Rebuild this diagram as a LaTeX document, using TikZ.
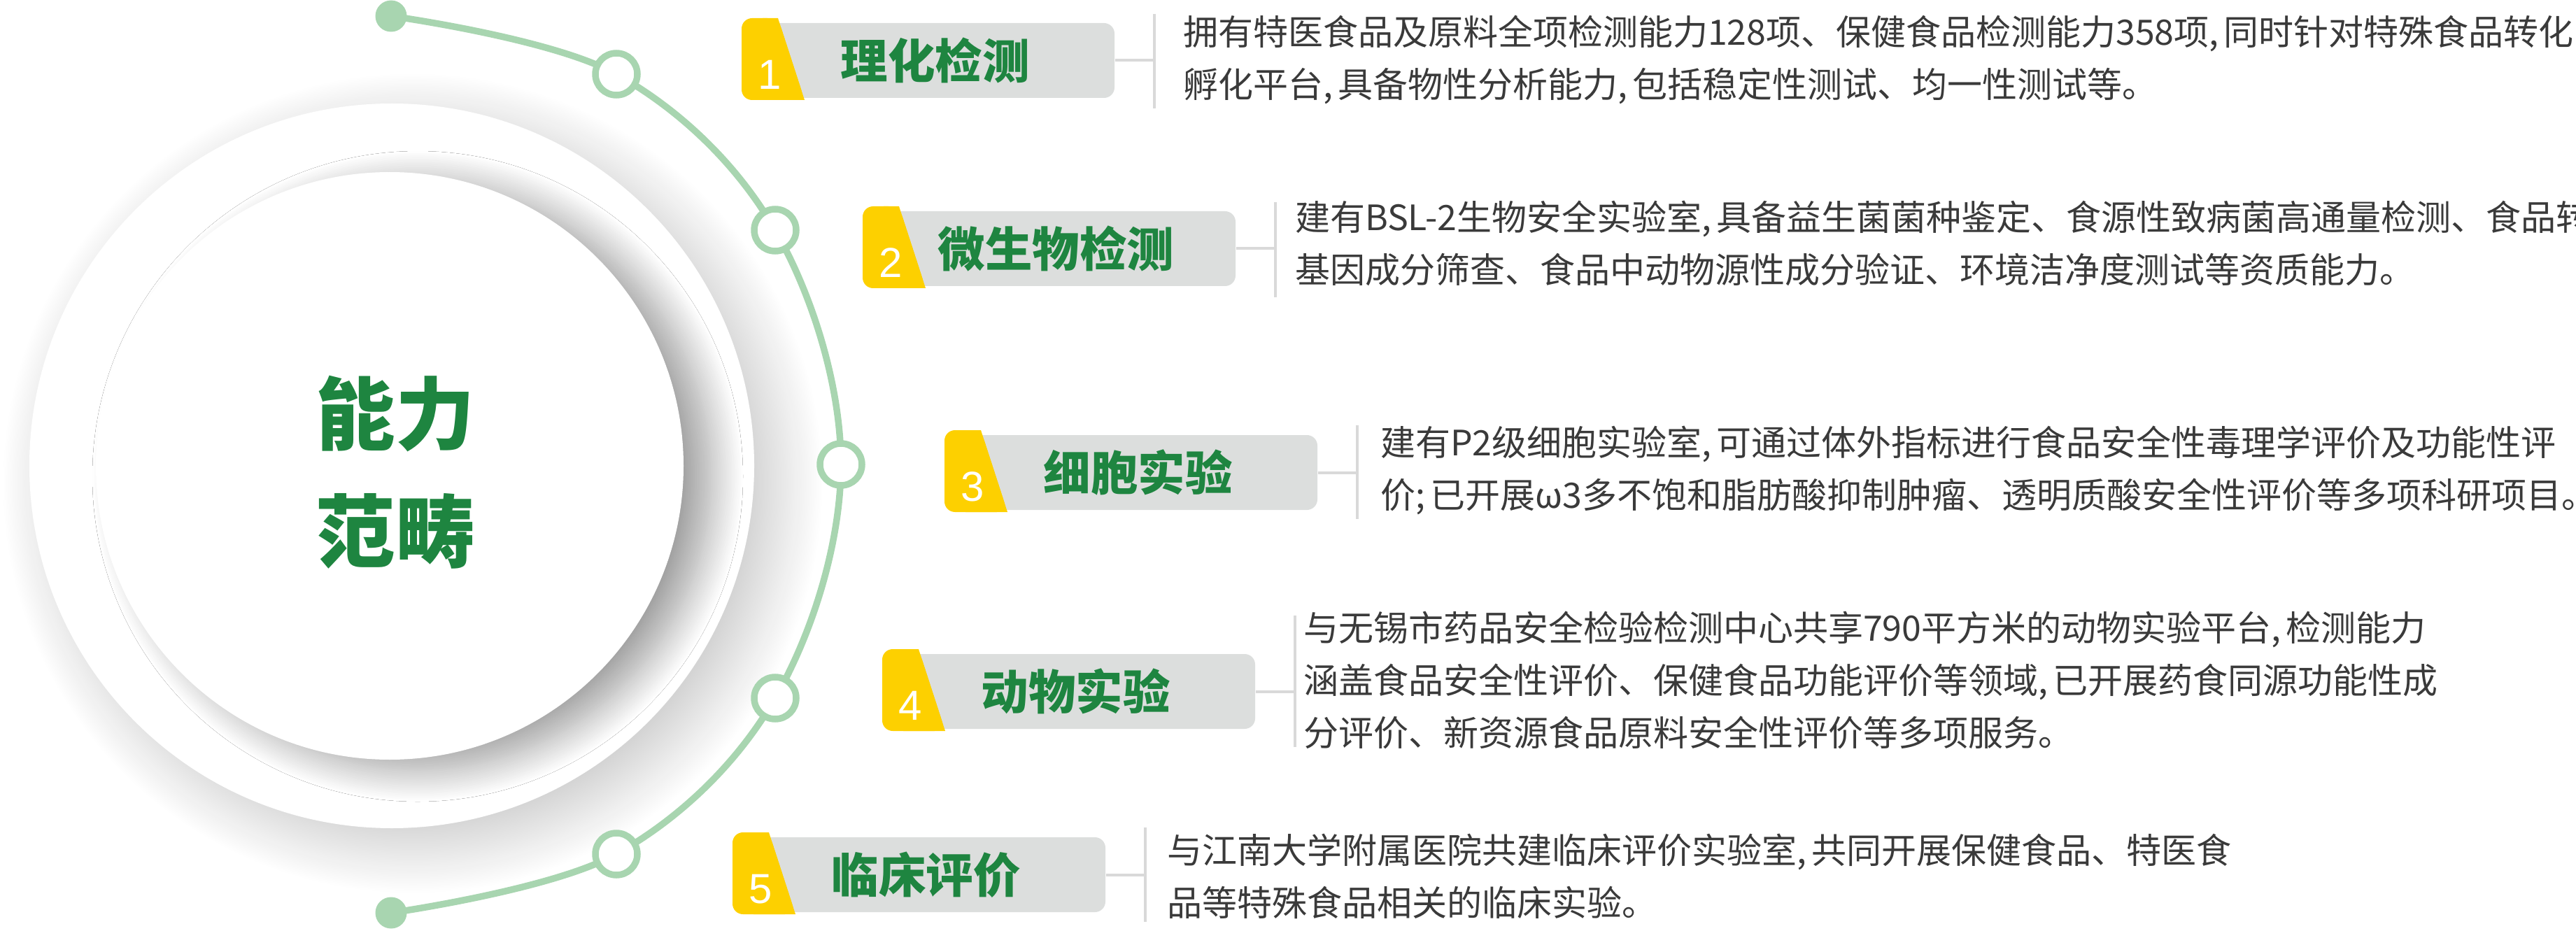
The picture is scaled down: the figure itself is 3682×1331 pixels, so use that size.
\documentclass[tikz,border=0pt]{standalone}
\usepackage{fontspec}
\setmainfont{Noto Sans CJK SC}
\newfontfamily\numfont{Liberation Sans}
\usetikzlibrary{shadows,shadows.blur}
\definecolor{tg}{HTML}{1E8540}
\definecolor{ty}{HTML}{FDD000}
\definecolor{tgray}{HTML}{DCDEDD}
\definecolor{arcg}{HTML}{A8D5B0}
\definecolor{txt}{HTML}{3A3A3A}
\definecolor{ln}{HTML}{D9D9D9}
\newcommand\cm{,\hspace{1.5pt}}
\tikzset{
  graybox/.style={fill=tgray, rounded corners=3pt, minimum width=98.6pt, minimum height=21.4pt, inner sep=0pt, text=tg, font=\fontsize{13.5pt}{14pt}\selectfont\bfseries},
  numtxt/.style={text=white, font=\numfont\fontsize{12pt}{12pt}\selectfont, inner sep=0pt},
  desc/.style={anchor=west, align=left, text=txt, inner sep=0pt, font=\fontsize{10pt}{15pt}\selectfont},
  vl/.style={draw=ln, line width=0.8pt},
  ring/.style={circle, draw=arcg, line width=1.9pt, fill=white, minimum size=12pt, inner sep=0pt},
  dot/.style={circle, fill=arcg, minimum size=9pt, inner sep=0pt},
}
\newcommand\mktag[7]{%
  \node[graybox] (#1g) at ({#2+286.5},{#3+1.5}) {\hspace*{-4pt}#4};
  \fill[ty, rounded corners=3pt] ({#2+52},{#3-59}) -- ({#2+90},{#3+58}) -- (#2,{#3+58}) -- (#2,{#3-59}) -- cycle;
  \fill[ty] ({#2+52},{#3-59}) -- ({#2+90},{#3+58}) -- ({#2+30},{#3+58}) -- ({#2+30},{#3-59}) -- cycle;
  \node[numtxt] (#1n) at ({#2+40},{#3+22}) {#5};
  \coordinate (#1t) at ({#2+590},{#6});
  \coordinate (#1b) at ({#2+590},{#7});
  \coordinate (#1c) at ({#2+590},{#3+1.5});
  \draw[vl] (#1t) -- (#1b);
  \draw[vl] (#1g.east) -- (#1c);
}
\begin{document}
\begin{tikzpicture}[x=0.2pt,y=-0.2pt]
\useasboundingbox (0,0) rectangle (3682,1331);
\clip (0,0) rectangle (3682,1331);
\fill[white, blur shadow={shadow xshift=6pt, shadow yshift=-5pt, shadow blur radius=14pt, shadow blur steps=30, shadow opacity=22}] (560,666) circle (518);
\fill[white, blur shadow={shadow xshift=8pt, shadow yshift=-3pt, shadow blur radius=9pt, shadow blur steps=30, shadow opacity=38}] (557,666) circle (420);
\node[text=tg, align=center, font=\fontsize{22.7pt}{33.6pt}\selectfont\bfseries] (core) at (565,675) {能力\\范畴};
\draw[arcg, line width=1.9pt] plot[smooth, tension=0.6] coordinates {(559,23) (881,106) (1108,329) (1202,664) (1108,998) (881,1221) (559,1305)};
\node[dot] (d0) at (559,23) {};
\node[dot] (d6) at (559,1305) {};
\node[ring] (r1) at (881,106) {};
\node[ring] (r2) at (1108,329) {};
\node[ring] (r3) at (1202,664) {};
\node[ring] (r4) at (1108,998) {};
\node[ring] (r5) at (881,1221) {};
\mktag{a}{1060}{85}{理化检测}{1}{20}{155}
\mktag{b}{1233}{354}{微生物检测}{2}{289}{425}
\mktag{c}{1350}{674}{细胞实验}{3}{608}{742}
\mktag{d}{1261}{987}{动物实验}{4}{880}{1068}
\mktag{e}{1047}{1249}{临床评价}{5}{1183}{1318}
\node[desc] (at) at (1690,85) {拥有特医食品及原料全项检测能力128项、保健食品检测能力358项\cm 同时针对特殊食品转化\\孵化平台\cm 具备物性分析能力\cm 包括稳定性测试、均一性测试等。};
\node[desc] (bt) at (1850,348) {建有BSL-2生物安全实验室\cm 具备益生菌菌种鉴定、食源性致病菌高通量检测、食品转\\基因成分筛查、食品中动物源性成分验证、环境洁净度测试等资质能力。};
\node[desc] (ct) at (1972,672) {建有P2级细胞实验室\cm 可通过体外指标进行食品安全性毒理学评价及功能性评\\价;\hspace{1.5pt}已开展ω3多不饱和脂肪酸抑制肿瘤、透明质酸安全性评价等多项科研项目。};
\node[desc] (dt) at (1862,972) {与无锡市药品安全检验检测中心共享790平方米的动物实验平台\cm 检测能力\\涵盖食品安全性评价、保健食品功能评价等领域\cm 已开展药食同源功能性成\\分评价、新资源食品原料安全性评价等多项服务。};
\node[desc] (et) at (1667,1253) {与江南大学附属医院共建临床评价实验室\cm 共同开展保健食品、特医食\\品等特殊食品相关的临床实验。};
\end{tikzpicture}
\end{document}
